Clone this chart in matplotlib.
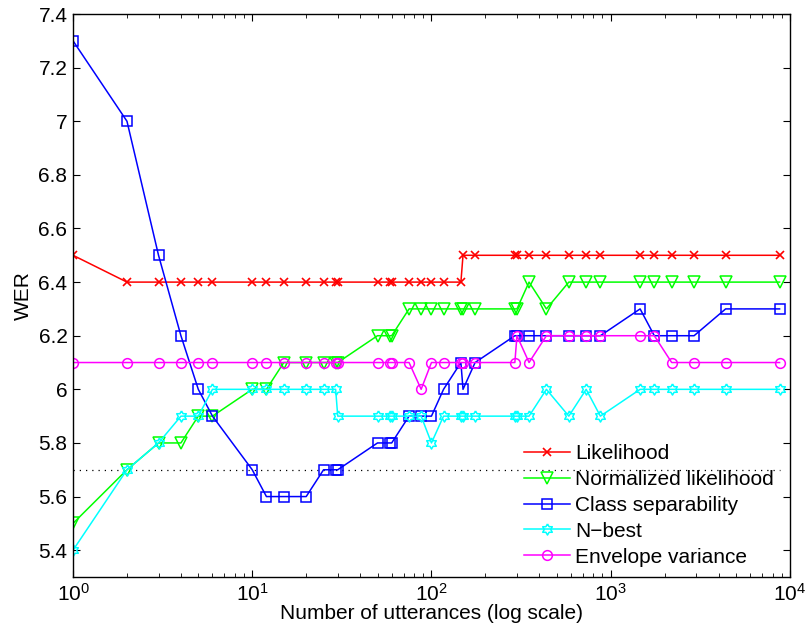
import matplotlib
matplotlib.use("Agg")
import matplotlib.pyplot as plt
from matplotlib.ticker import FixedLocator, FixedFormatter, LogLocator, NullFormatter

plt.rcParams['font.family'] = ['Liberation Sans', 'DejaVu Sans']
plt.rcParams['mathtext.fontset'] = 'custom'
plt.rcParams['mathtext.rm'] = 'Liberation Sans'
plt.rcParams['mathtext.it'] = 'Liberation Sans'
plt.rcParams['mathtext.bf'] = 'Liberation Sans'

utterances = [1, 2, 3, 4, 5, 6, 10, 12, 15, 20, 25, 29.2, 30, 50, 58.4, 60, 75, 87.6,
              100, 116.8, 146, 150, 175.2, 292, 300, 350.4, 438, 584, 730, 876,
              1460, 1752, 2190, 2920, 4380, 8760]

likelihood = [6.5, 6.4, 6.4, 6.4, 6.4, 6.4, 6.4, 6.4, 6.4, 6.4, 6.4, 6.4, 6.4, 6.4, 6.4, 6.4, 6.4, 6.4,
              6.4, 6.4, 6.4, 6.5, 6.5, 6.5, 6.5, 6.5, 6.5, 6.5, 6.5, 6.5,
              6.5, 6.5, 6.5, 6.5, 6.5, 6.5]
norm_likelihood = [5.5, 5.7, 5.8, 5.8, 5.9, 5.9, 6.0, 6.0, 6.1, 6.1, 6.1, 6.1, 6.1, 6.2, 6.2, 6.2, 6.3, 6.3,
                   6.3, 6.3, 6.3, 6.3, 6.3, 6.3, 6.3, 6.4, 6.3, 6.4, 6.4, 6.4,
                   6.4, 6.4, 6.4, 6.4, 6.4, 6.4]
class_sep = [7.3, 7.0, 6.5, 6.2, 6.0, 5.9, 5.7, 5.6, 5.6, 5.6, 5.7, 5.7, 5.7, 5.8, 5.8, 5.8, 5.9, 5.9,
             5.9, 6.0, 6.1, 6.0, 6.1, 6.2, 6.2, 6.2, 6.2, 6.2, 6.2, 6.2,
             6.3, 6.2, 6.2, 6.2, 6.3, 6.3]
nbest = [5.4, 5.7, 5.8, 5.9, 5.9, 6.0, 6.0, 6.0, 6.0, 6.0, 6.0, 6.0, 5.9, 5.9, 5.9, 5.9, 5.9, 5.9,
         5.8, 5.9, 5.9, 5.9, 5.9, 5.9, 5.9, 5.9, 6.0, 5.9, 6.0, 5.9,
         6.0, 6.0, 6.0, 6.0, 6.0, 6.0]
env_var = [6.1, 6.1, 6.1, 6.1, 6.1, 6.1, 6.1, 6.1, 6.1, 6.1, 6.1, 6.1, 6.1, 6.1, 6.1, 6.1, 6.1, 6.0,
           6.1, 6.1, 6.1, 6.1, 6.1, 6.1, 6.2, 6.1, 6.2, 6.2, 6.2, 6.2,
           6.2, 6.2, 6.1, 6.1, 6.1, 6.1]

reference_wer = 5.7
ref_x = [1, 8760]

y_ticks = [5.4, 5.6, 5.8, 6.0, 6.2, 6.4, 6.6, 6.8, 7.0, 7.2, 7.4]
y_tick_labels = ['5.4', '5.6', '5.8', '6', '6.2', '6.4', '6.6', '6.8', '7', '7.2', '7.4']
x_ticks = [1, 10, 100, 1000, 10000]
x_tick_labels = [r'$\mathregular{10^{0}}$', r'$\mathregular{10^{1}}$', r'$\mathregular{10^{2}}$',
                 r'$\mathregular{10^{3}}$', r'$\mathregular{10^{4}}$']

labels = ['Likelihood', 'Normalized likelihood', 'Class separability', 'N\u2212best', 'Envelope variance']

fs = 15
fig = plt.figure(figsize=(8.06, 6.37), dpi=100)
ax = fig.add_axes([0.0906, 0.0942, 0.8894, 0.8838])

hexagram = [(0, 1), (0.2887, 0.5), (0.866, 0.5), (0.5774, 0), (0.866, -0.5), (0.2887, -0.5),
            (0, -1), (-0.2887, -0.5), (-0.866, -0.5), (-0.5774, 0), (-0.866, 0.5), (-0.2887, 0.5), (0, 1)]

lw = 1.1
ax.plot(ref_x, [reference_wer, reference_wer], linestyle=(0, (1, 4)), color='black', lw=0.9)
ax.plot(utterances, likelihood, color=(1, 0, 0), marker='x', ms=6, mew=1.2, lw=lw, label=labels[0])
ax.plot(utterances, norm_likelihood, color=(0, 1, 0), marker='v', ms=8, mfc='none', mew=1.1, lw=lw, label=labels[1])
ax.plot(utterances, class_sep, color=(0, 0, 1), marker='s', ms=6.5, mfc='none', mew=1.1, lw=lw, label=labels[2])
ax.plot(utterances, nbest, color=(0, 1, 1), marker=hexagram, ms=8, mfc='none', mew=1.1, lw=lw, label=labels[3])
ax.plot(utterances, env_var, color=(1, 0, 1), marker='o', ms=7, mfc='none', mew=1.1, lw=lw, label=labels[4])

ax.set_xscale('log')
ax.set_xlim(1, 10000)
ax.set_ylim(5.3, 7.4)
ax.xaxis.set_major_locator(FixedLocator(x_ticks))
ax.xaxis.set_major_formatter(FixedFormatter(x_tick_labels))
ax.xaxis.set_minor_locator(LogLocator(base=10, subs=range(2, 10)))
ax.xaxis.set_minor_formatter(NullFormatter())
ax.yaxis.set_major_locator(FixedLocator(y_ticks))
ax.yaxis.set_major_formatter(FixedFormatter(y_tick_labels))

ax.tick_params(which='both', direction='in', top=True, right=True, labelsize=fs)
ax.tick_params(which='major', length=5, pad=4)
ax.tick_params(which='minor', length=3)
for s in ax.spines.values():
    s.set_linewidth(1.0)

ax.set_xlabel('Number of utterances (log scale)', fontsize=fs, labelpad=0)
ax.set_ylabel('WER', fontsize=fs, labelpad=4)

leg = ax.legend(loc='lower right', frameon=False, fontsize=fs, handlelength=2.2,
                handletextpad=0.25, labelspacing=0.33, borderaxespad=0.1,
                bbox_to_anchor=(0.992, 0.0))

fig.savefig('out.png', dpi=100)
